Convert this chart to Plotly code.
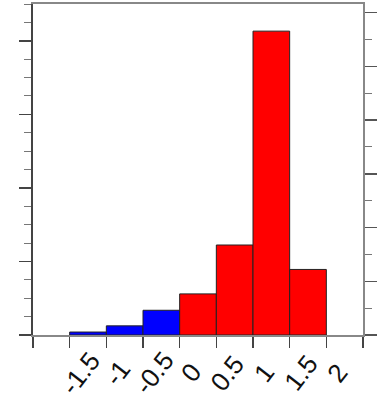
import plotly.graph_objects as go

# ---- data ----
bin_left = [-1.5, -1.0, -0.5, 0.0, 0.5, 1.0, 1.5]
bin_width = 0.5
density = [0.011, 0.034, 0.092, 0.153, 0.335, 1.131, 0.244]
bar_colors = ["#0000ff", "#0000ff", "#0000ff", "#ff0000", "#ff0000", "#ff0000", "#ff0000"]
x_tickvals = [-2, -1.5, -1, -0.5, 0, 0.5, 1, 1.5, 2, 2.5]
label_vals = [-1.5, -1, -0.5, 0, 0.5, 1, 1.5, 2]
label_text = ["-1.5", "-1", "-0.5", "0", "0.5", "1", "1.5", "2"]

fig = go.Figure()
fig.add_trace(go.Bar(
    x=bin_left, y=density, width=bin_width, offset=0,
    marker=dict(color=bar_colors, line=dict(color="#222222", width=1)),
    yaxis="y", showlegend=False, hoverinfo="skip",
))
# invisible trace to activate left axis
fig.add_trace(go.Scatter(x=[None], y=[None], yaxis="y2", showlegend=False))

# rotated x tick labels, centred below each tick
for v, t in zip(label_vals, label_text):
    fig.add_annotation(
        x=v, xref="x", y=0, yref="paper", text=t, showarrow=False,
        textangle=-52, xanchor="center", yanchor="middle",
        xshift=11, yshift=-38,
        font=dict(size=26, family="Liberation Sans, Arial, sans-serif", color="#111111"),
    )

fig.update_layout(
    width=378, height=404,
    margin=dict(l=33, r=15, t=4, b=69),
    paper_bgcolor="white", plot_bgcolor="white",
    bargap=0,
    font=dict(family="Liberation Sans, Arial, sans-serif", color="#111111"),
    xaxis=dict(
        range=[-2, 2.5], tickvals=x_tickvals, showticklabels=False,
        ticks="outside", ticklen=11, tickwidth=1.5, tickcolor="#444444",
        showline=True, linecolor="#888888", linewidth=2, mirror=True,
        showgrid=False, zeroline=False, automargin=False,
    ),
    yaxis=dict(
        side="right", range=[0, 1.232], dtick=0.2, ticks="outside", ticklen=12,
        tickwidth=1.5, tickcolor="#555555", showticklabels=False,
        minor=dict(dtick=0.1, ticks="outside", ticklen=7, tickwidth=1, tickcolor="#777777"),
        showline=True, linecolor="#888888", linewidth=2,
        showgrid=False, zeroline=False, automargin=False,
    ),
    yaxis2=dict(
        overlaying="y", side="left", range=[0, 4.5], dtick=1, ticks="outside", ticklen=12,
        tickwidth=1.5, tickcolor="#444444", showticklabels=False,
        minor=dict(dtick=0.25, ticks="outside", ticklen=7, tickwidth=1, tickcolor="#777777"),
        showline=True, linecolor="#444444", linewidth=2,
        showgrid=False, zeroline=False, automargin=False,
    ),
)

fig.write_html(
    "out.html",
    config={"displayModeBar": False, "staticPlot": True},
    post_script="document.body.style.margin='0';document.body.style.overflow='hidden';",
)
